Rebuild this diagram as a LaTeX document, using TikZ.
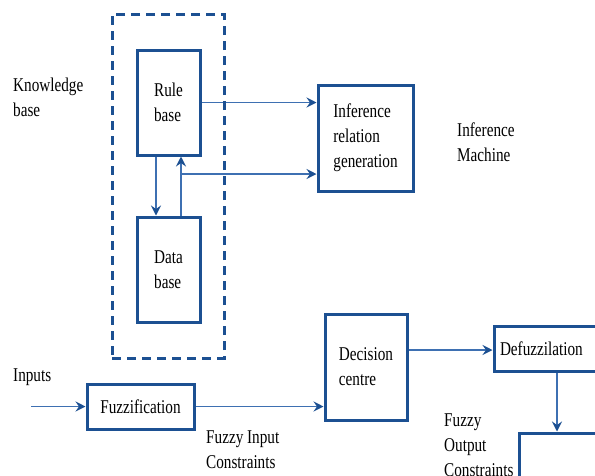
\documentclass[tikz,border=0pt]{standalone}
\usepackage{fontspec}
\setmainfont{Liberation Serif}[FakeStretch=0.78]
\usetikzlibrary{arrows.meta}
\pgfdeclarelayer{edgelayer}
\pgfdeclarelayer{nodelayer}
\pgfsetlayers{edgelayer,nodelayer,main}
\definecolor{boxblue}{RGB}{28,80,146}
\definecolor{wireblue}{RGB}{62,112,178}
\tikzstyle{block}=[draw=boxblue,line width=3pt,rectangle,align=left,inner sep=0pt,font=\fontsize{19.5}{25}\selectfont]
\tikzstyle{label}=[anchor=west,align=left,inner sep=0pt,font=\fontsize{19.5}{25}\selectfont]
\tikzstyle{arrow}=[-{Stealth[length=10pt,width=10pt,inset=3.5pt,color=boxblue]},draw=wireblue,line width=1.6pt]

\begin{document}
\begin{tikzpicture}[x=1pt,y=-1pt]
	\useasboundingbox (0,0) rectangle (595,475);
	\begin{pgfonlayer}{nodelayer}
		\node [style=block, dash pattern=on 9pt off 6pt, minimum width=112pt, minimum height=344pt] (kb) at (168,186) {};
		\node [style=block, minimum width=63pt, minimum height=105pt] (rule) at (168.5,102.5) {Rule\\base};
		\node [style=block, minimum width=63pt, minimum height=105pt] (data) at (168.5,269.5) {Data\\base};
		\node [style=block, minimum width=95pt, minimum height=106pt] (infer) at (365.5,138) {Inference\\relation\\generation};
		\node [style=block, minimum width=107pt, minimum height=45pt] (fuzz) at (140.5,406.5) {Fuzzification};
		\node [style=block, minimum width=82pt, minimum height=106pt] (dec) at (366,367) {Decision\\centre};
		\node [style=block, minimum width=130pt, minimum height=45pt, text width=118pt] (defuzz) at (559,348.5) {Defuzzilation};
		\node [style=block, minimum width=100pt, minimum height=100pt] (out) at (569,483) {};
		\node [style=label] (kblabel) at (13,97) {Knowledge\\base};
		\node [style=label] (machine) at (457,142) {Inference\\Machine};
		\node [style=label] (inputs) at (13,377) {Inputs};
		\node [style=label] (fic) at (206,450) {Fuzzy Input\\Constraints};
		\node [style=label] (foc) at (444,445) {Fuzzy\\Output\\Constraints};
		\coordinate (in) at (31,406.5);
		\coordinate (j) at (181,174);
		\coordinate (d) at (557,0);
	\end{pgfonlayer}
	\begin{pgfonlayer}{edgelayer}
		\draw [style=arrow] (rule.east) to (rule.east -| infer.west);
		\draw [style=arrow] ([xshift=-12.5pt]rule.south) to ([xshift=-12.5pt]data.north);
		\draw [style=arrow] ([xshift=12.5pt]data.north) to ([xshift=12.5pt]rule.south);
		\draw [style=arrow] (j) to (j -| infer.west);
		\draw [style=arrow] (in) to (fuzz.west);
		\draw [style=arrow] (fuzz.east) to (fuzz.east -| dec.west);
		\draw [style=arrow] (dec.east |- 0,350) to (defuzz.west |- 0,350);
		\draw [style=arrow] (defuzz.south -| d) to (out.north -| d);
	\end{pgfonlayer}
\end{tikzpicture}
\end{document}
